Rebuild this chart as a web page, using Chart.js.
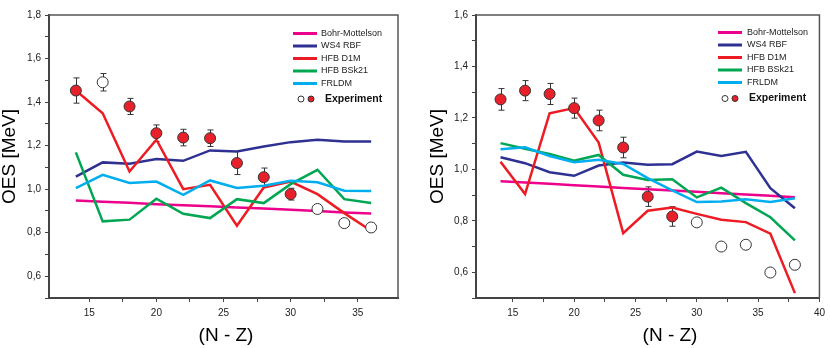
<!DOCTYPE html>
<html>
<head>
<meta charset="utf-8">
<script src="https://cdn.jsdelivr.net/npm/chart.js@4.4.1/dist/chart.umd.min.js"></script>
<style>
  body { margin: 0; background: #fff; }
  .panel { position: absolute; top: 0; width: 415px; height: 348px; }
</style>
</head>
<body>
<div class="panel" style="left:0"><canvas id="chart-left" width="415" height="348"></canvas></div>
<div class="panel" style="left:415px"><canvas id="chart-right" width="415" height="348"></canvas></div>
<script>
// ---- left panel data ----
var nzLeft = [14, 16, 18, 20, 22, 24, 26, 28, 30, 32, 34, 36];
var bohrLeft = [0.948, 0.942, 0.937, 0.931, 0.926, 0.921, 0.916, 0.911, 0.905, 0.900, 0.893, 0.888];
var ws4Left = [1.058, 1.123, 1.117, 1.139, 1.130, 1.178, 1.173, 1.196, 1.216, 1.227, 1.219, 1.219];
var d1mLeft = [1.453, 1.349, 1.081, 1.227, 1.000, 1.020, 0.832, 1.008, 1.035, 0.977, 0.890, 0.809];
var bsk21Left = [1.169, 0.852, 0.860, 0.956, 0.887, 0.867, 0.954, 0.936, 1.023, 1.089, 0.954, 0.936];
var frldmLeft = [1.005, 1.066, 1.028, 1.035, 0.974, 1.040, 1.005, 1.016, 1.039, 1.032, 0.993, 0.991];
var expLeftX = [14, 18, 20, 22, 24, 26, 28, 30];
var expLeftY = [1.453, 1.380, 1.257, 1.237, 1.234, 1.120, 1.055, 0.977];
var expLeftErr = [0.058, 0.037, 0.038, 0.038, 0.038, 0.053, 0.042, 0.027];
var openLeftX = [16, 32, 34, 36];
var openLeftY = [1.491, 0.909, 0.844, 0.824];
var openLeftErr = [0.040, 0, 0, 0];

// ---- right panel data ----
var nzRight = [14, 16, 18, 20, 22, 24, 26, 28, 30, 32, 34, 36, 38];
var bohrRight = [0.954, 0.949, 0.944, 0.938, 0.933, 0.928, 0.923, 0.918, 0.913, 0.907, 0.902, 0.897, 0.892];
var ws4Right = [1.047, 1.024, 0.989, 0.975, 1.015, 1.027, 1.018, 1.020, 1.069, 1.052, 1.068, 0.927, 0.849];
var d1mRight = [1.030, 0.904, 1.218, 1.238, 1.104, 0.752, 0.839, 0.852, 0.827, 0.804, 0.795, 0.750, 0.519];
var bsk21Right = [1.102, 1.080, 1.060, 1.034, 1.056, 0.979, 0.959, 0.962, 0.891, 0.929, 0.869, 0.814, 0.724];
var frldmRight = [1.078, 1.086, 1.052, 1.028, 1.037, 1.021, 0.966, 0.918, 0.873, 0.875, 0.884, 0.873, 0.888];
var expRightX = [14, 16, 18, 20, 22, 24, 26, 28];
var expRightY = [1.272, 1.306, 1.293, 1.238, 1.190, 1.085, 0.894, 0.817];
var expRightErr = [0.042, 0.039, 0.041, 0.039, 0.040, 0.040, 0.038, 0.038];
var openRightX = [30, 32, 34, 36, 38];
var openRightY = [0.794, 0.700, 0.707, 0.599, 0.629];

var legendNames = ['Bohr-Mottelson', 'WS4 RBF', 'HFB D1M', 'HFB BSk21', 'FRLDM'];
var lineColors = ['#ec008c', '#2e3192', '#ed1c24', '#00a651', '#00aeef'];
var FONT = 'Arial, "Liberation Sans", Helvetica, sans-serif';

function pts(xs, ys) {
  return ys.map(function(v, i) { return { x: xs[i], y: v }; });
}

// error bars drawn under the markers
var errorBars = {
  id: 'errorBars',
  beforeDatasetsDraw: function(chart) {
    var ctx = chart.ctx, xs = chart.scales.x, ys = chart.scales.y;
    chart.data.datasets.forEach(function(ds) {
      if (!ds.errors) return;
      ctx.save();
      ctx.strokeStyle = '#333';
      ctx.lineWidth = 1;
      ds.data.forEach(function(p, i) {
        var e = ds.errors[i];
        if (!e) return;
        var x = Math.round(xs.getPixelForValue(p.x)) + 0.5;
        var y1 = ys.getPixelForValue(p.y + e), y2 = ys.getPixelForValue(p.y - e);
        ctx.beginPath();
        ctx.moveTo(x, y1); ctx.lineTo(x, y2);
        ctx.moveTo(x - 3, y1); ctx.lineTo(x + 3, y1);
        ctx.moveTo(x - 3, y2); ctx.lineTo(x + 3, y2);
        ctx.stroke();
      });
      ctx.restore();
    });
  }
};

// top/right frame lines, x title + legend inside the plot
var frameAndLegend = {
  id: 'frameAndLegend',
  afterDraw: function(chart, args, o) {
    var ctx = chart.ctx, a = chart.chartArea;
    ctx.save();
    ctx.strokeStyle = '#555';
    ctx.lineWidth = 1.5;
    ctx.beginPath();
    ctx.moveTo(a.left, a.top); ctx.lineTo(a.right, a.top); ctx.lineTo(a.right, a.bottom);
    ctx.stroke();

    // x axis title (not centred on the axis in the original)
    ctx.font = '19px ' + FONT;
    ctx.fillStyle = '#000';
    ctx.textAlign = 'center';
    ctx.textBaseline = 'middle';
    ctx.fillText('(N - Z)', o.xTitleX, 336);

    ctx.textAlign = 'left';
    ctx.font = '9px ' + FONT;
    ctx.fillStyle = '#222';
    legendNames.forEach(function(name, i) {
      var y = o.rowY + i * o.rowStep;
      ctx.strokeStyle = lineColors[i];
      ctx.lineWidth = 3;
      ctx.beginPath();
      ctx.moveTo(o.lineX, y); ctx.lineTo(o.lineX + o.lineLen, y);
      ctx.stroke();
      ctx.fillText(name, o.textX, y);
    });
    var ey = o.expY;
    ctx.lineWidth = 1;
    ctx.strokeStyle = '#333';
    ctx.beginPath(); ctx.arc(o.openX, ey, 3, 0, Math.PI * 2);
    ctx.fillStyle = '#fff'; ctx.fill(); ctx.stroke();
    ctx.beginPath(); ctx.arc(o.filledX, ey, 3, 0, Math.PI * 2);
    ctx.fillStyle = '#e8202a'; ctx.fill(); ctx.stroke();
    ctx.font = 'bold 10.5px ' + FONT;
    ctx.fillStyle = '#111';
    ctx.fillText('Experiment', o.expTextX, ey);
    ctx.restore();
  }
};

function makeChart(id, cfg) {
  var datasets = [
    { data: pts(cfg.expX, cfg.expY), errors: cfg.expErr, showLine: false, pointRadius: 5.5,
      pointBackgroundColor: '#e8202a', pointBorderColor: '#333', pointBorderWidth: 1, order: 0 },
    { data: pts(cfg.openX, cfg.openY), errors: cfg.openErr, showLine: false, pointRadius: 5.5,
      pointBackgroundColor: '#fff', pointBorderColor: '#333', pointBorderWidth: 1, order: 0 }
  ];
  cfg.lines.forEach(function(ys, i) {
    datasets.push({ label: legendNames[i], data: pts(cfg.nz, ys), borderColor: lineColors[i],
      borderWidth: 2.5, pointRadius: 0, tension: 0, fill: false, order: 5 - i });
  });

  var tickFont = { family: FONT, size: 10 };
  var titleFont = { family: FONT, size: 19, lineHeight: 1 };

  return new Chart(document.getElementById(id), {
    type: 'line',
    data: { datasets: datasets },
    plugins: [errorBars, frameAndLegend],
    options: {
      responsive: false,
      animation: false,
      layout: { padding: { left: cfg.padLeft, right: cfg.padRight, top: 15, bottom: 0 } },
      plugins: {
        legend: { display: false },
        tooltip: { enabled: false },
        frameAndLegend: cfg.legend
      },
      scales: {
        x: {
          type: 'linear', min: 12, max: cfg.xMax,
          afterBuildTicks: function(s) {
            s.ticks = s.ticks.filter(function(t) { return Math.abs(t.value / 2.5 - Math.round(t.value / 2.5)) < 1e-6; });
          },
          afterFit: function(s) { s.height = 50; },
          ticks: { stepSize: 2.5, autoSkip: false, maxRotation: 0, padding: 5, color: '#222', font: tickFont,
            callback: function(v) { return v % 5 === 0 ? String(v) : ''; } },
          grid: { drawOnChartArea: false, tickLength: 4, tickColor: '#444' },
          border: { color: '#444', width: 2 }
        },
        y: {
          min: 0.5, max: cfg.yMax,
          afterBuildTicks: function(s) {
            s.ticks = s.ticks.filter(function(t) { return Math.abs(t.value * 10 - Math.round(t.value * 10)) < 1e-6; });
          },
          afterFit: function(s) { s.width = cfg.yWidth; },
          ticks: { stepSize: 0.1, autoSkip: false, padding: 4, color: '#222', font: tickFont,
            callback: function(v) {
              var k = Math.round(v * 10);
              return (k % 2 === 0 && k > 5) ? (k / 10).toFixed(1).replace('.', ',') : '';
            } },
          grid: { drawOnChartArea: false, tickLength: 4, tickColor: '#444' },
          border: { color: '#444', width: 2 },
          title: { display: true, text: 'OES [MeV]', color: '#000', font: titleFont, padding: { top: 0, bottom: 0 } }
        }
      }
    }
  });
}

makeChart('chart-left', {
  nz: nzLeft, lines: [bohrLeft, ws4Left, d1mLeft, bsk21Left, frldmLeft],
  expX: expLeftX, expY: expLeftY, expErr: expLeftErr,
  openX: openLeftX, openY: openLeftY, openErr: openLeftErr,
  xMax: 38, yMax: 1.8, padLeft: 0, padRight: 17, yWidth: 49,
  legend: { lineX: 293, lineLen: 24, textX: 321, rowY: 33.5, rowStep: 12.5,
    expY: 99, openX: 301, filledX: 311, expTextX: 325, xTitleX: 226 }
});

makeChart('chart-right', {
  nz: nzRight, lines: [bohrRight, ws4Right, d1mRight, bsk21Right, frldmRight],
  expX: expRightX, expY: expRightY, expErr: expRightErr,
  openX: openRightX, openY: openRightY, openErr: null,
  xMax: 40, yMax: 1.6, padLeft: 13, padRight: 6, yWidth: 48,
  legend: { lineX: 303, lineLen: 24, textX: 332, rowY: 32.5, rowStep: 12.5,
    expY: 98.5, openX: 310, filledX: 320, expTextX: 334, xTitleX: 255 }
});
</script>
</body>
</html>
